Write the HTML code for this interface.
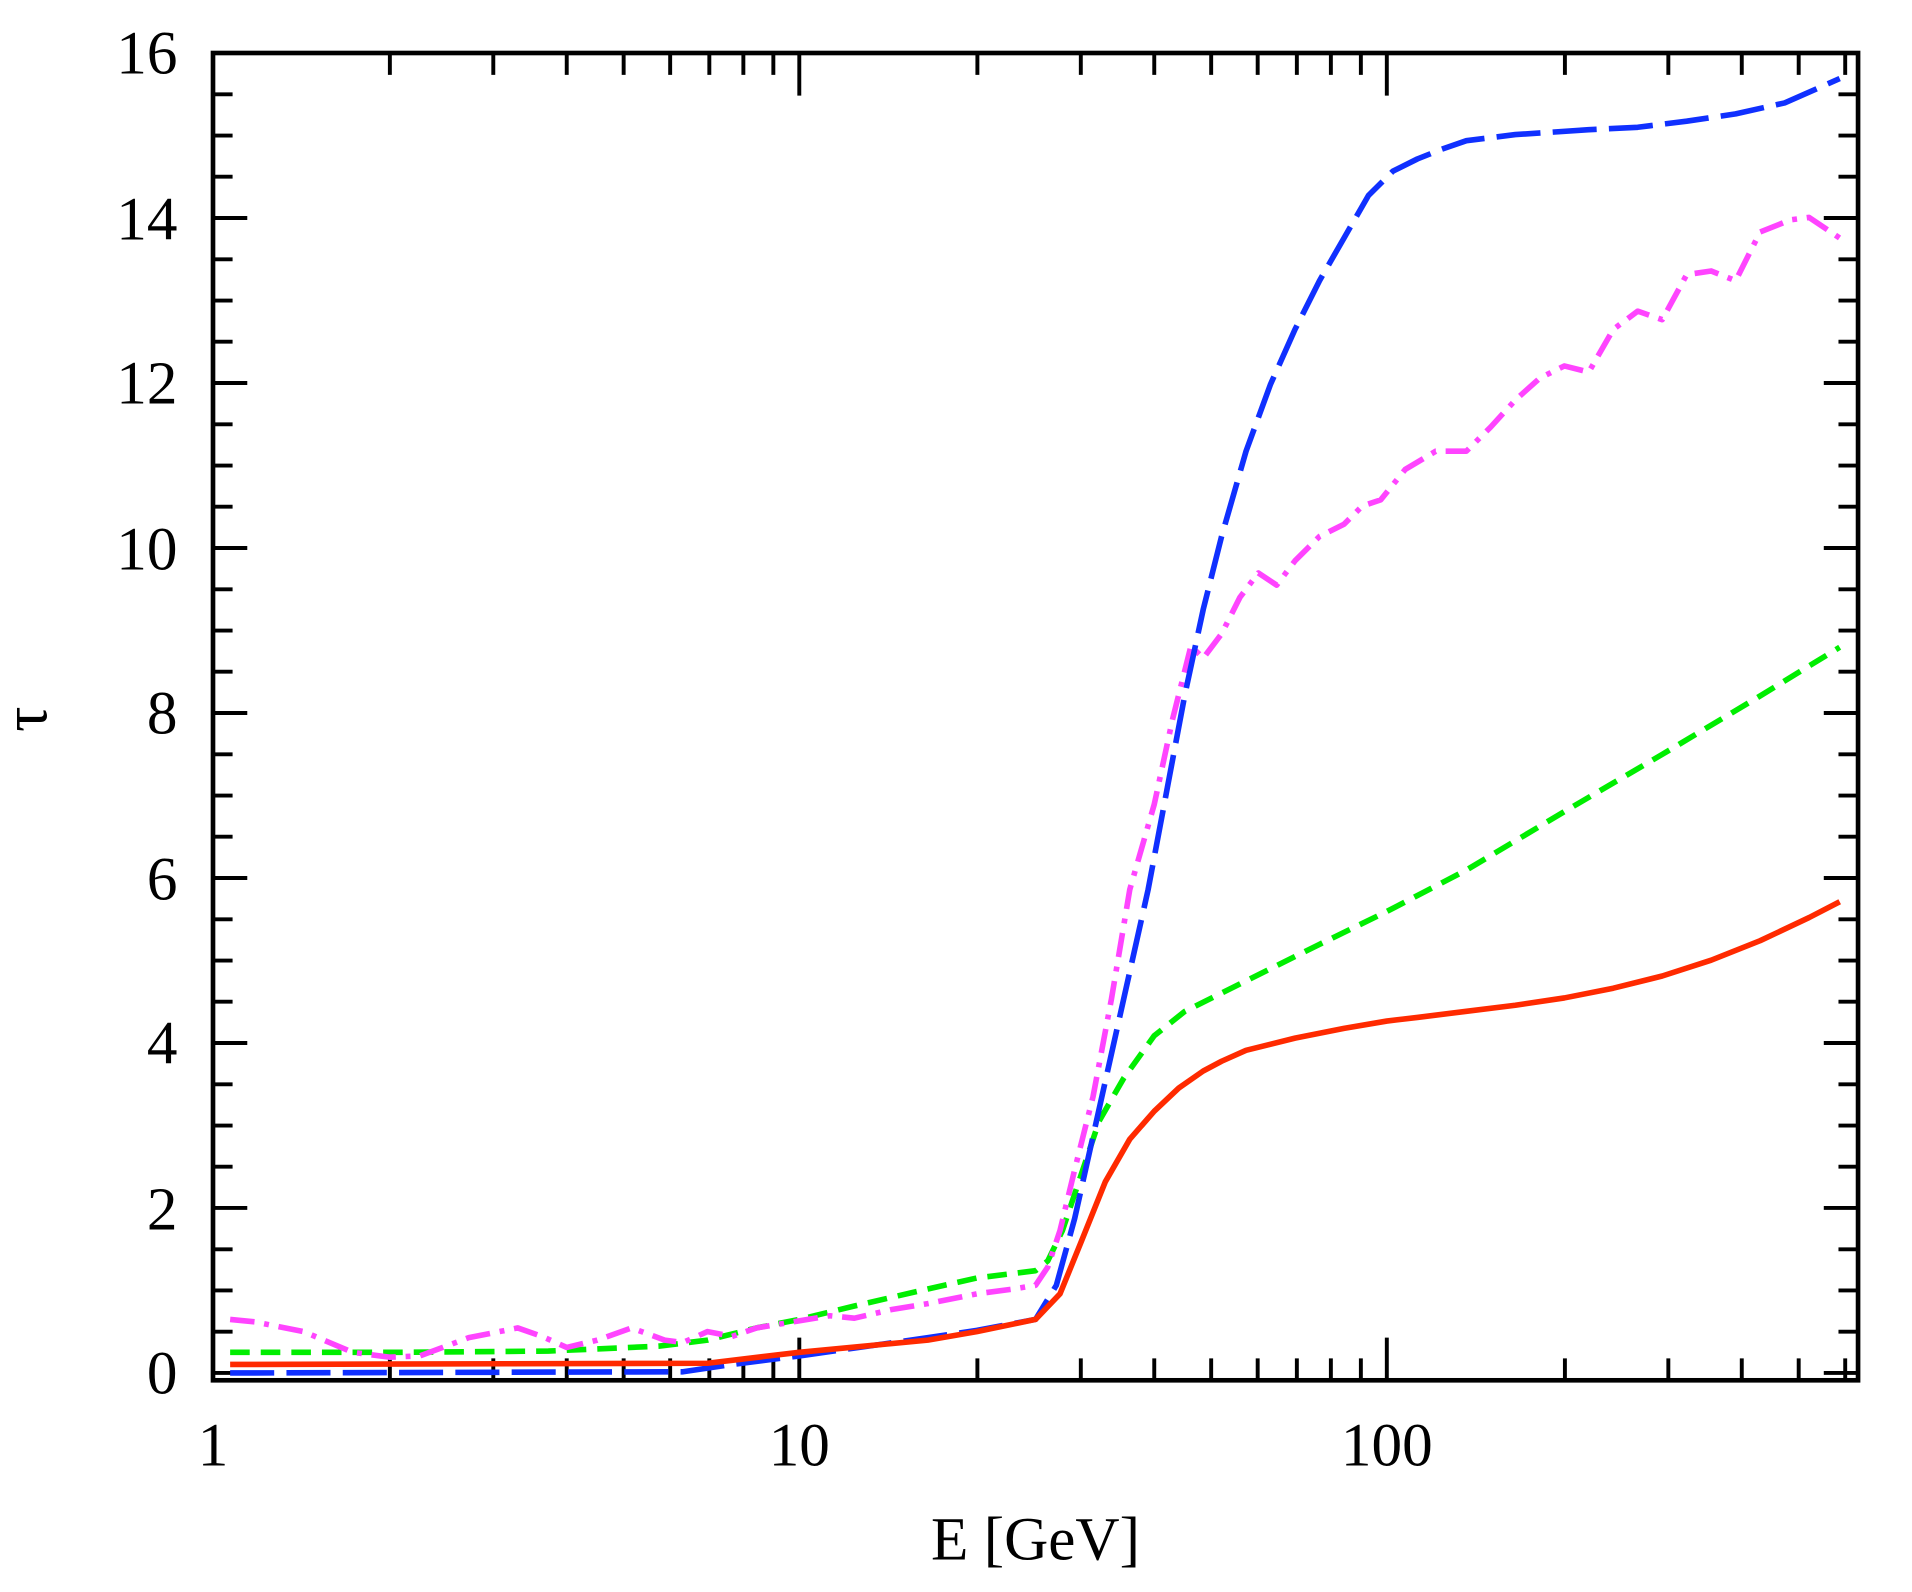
<!DOCTYPE html>
<html><head><meta charset="utf-8"><style>
html,body{margin:0;padding:0;background:#fff;width:1912px;height:1592px;overflow:hidden}
svg{display:block}
text{font-family:"Liberation Serif","DejaVu Serif",serif;fill:#000}
</style></head><body>
<svg width="1912" height="1592" viewBox="0 0 1912 1592">
<g transform="translate(213,53) scale(1.224,1.2177) translate(-176,-43)">
<g stroke="#000" stroke-width="3.2" fill="none">
<path d="M176,1127h28M176,991.5h28M176,856h28M176,720.5h28M176,585h28M176,449.5h28M176,314h28M176,178.5h28M176,43h28
M176,1093.1h16M176,1059.2h16M176,1025.4h16M176,957.6h16M176,923.8h16M176,889.9h16M176,822.1h16M176,788.3h16M176,754.4h16M176,686.6h16M176,652.8h16M176,618.9h16M176,551.1h16M176,517.3h16M176,483.4h16M176,415.6h16M176,381.8h16M176,347.9h16M176,280.1h16M176,246.3h16M176,212.4h16M176,144.6h16M176,110.8h16M176,76.9h16
M1520,1127h-28M1520,991.5h-28M1520,856h-28M1520,720.5h-28M1520,585h-28M1520,449.5h-28M1520,314h-28M1520,178.5h-28
M1520,1093.1h-16M1520,1059.2h-16M1520,1025.4h-16M1520,957.6h-16M1520,923.8h-16M1520,889.9h-16M1520,822.1h-16M1520,788.3h-16M1520,754.4h-16M1520,686.6h-16M1520,652.8h-16M1520,618.9h-16M1520,551.1h-16M1520,517.3h-16M1520,483.4h-16M1520,415.6h-16M1520,381.8h-16M1520,347.9h-16M1520,280.1h-16M1520,246.3h-16M1520,212.4h-16M1520,144.6h-16M1520,110.8h-16M1520,76.9h-16"/>
<path d="M655,1133v-35M1135,1133v-35M655,43v35M1135,43v35
M320.5,1133v-18M405,1133v-18M465,1133v-18M511.5,1133v-18M549.5,1133v-18M581.5,1133v-18M609.3,1133v-18M633.8,1133v-18
M800.5,1133v-18M885,1133v-18M945,1133v-18M991.5,1133v-18M1029.5,1133v-18M1061.5,1133v-18M1089.3,1133v-18M1113.8,1133v-18
M1280.5,1133v-18M1365,1133v-18M1425,1133v-18M1471.5,1133v-18M1509.5,1133v-18
M320.5,43v18M405,43v18M465,43v18M511.5,43v18M549.5,43v18M581.5,43v18M609.3,43v18M633.8,43v18
M800.5,43v18M885,43v18M945,43v18M991.5,43v18M1029.5,43v18M1061.5,43v18M1089.3,43v18M1113.8,43v18
M1280.5,43v18M1365,43v18M1425,43v18M1471.5,43v18M1509.5,43v18"/>
<rect x="176" y="43" width="1344" height="1090" stroke-width="3.8"/>
</g>
<g fill="none" stroke-width="4.6" stroke-linejoin="round">
<polyline stroke="#00ee00" stroke-dasharray="16,9" points="190,1110 330,1110 450,1109 540,1105 580,1100 620,1090 655,1083 700,1072 760,1058 800,1049 848,1043 858,1035 870,1010 885,965 900,920 920,885 945,850 970,830 1000,815 1040,795 1080,775 1135,748 1200,714 1280,666 1360,619 1440,571 1505,531"/>
<polyline stroke="#ff44ff" stroke-dasharray="20,8,4,8" points="190,1083 210,1085 250,1093 290,1110 320,1114 345,1113 385,1098 425,1090 445,1097 465,1106 490,1100 518,1090 545,1100 560,1102 580,1093 600,1097 620,1090 650,1085 680,1080 700,1082 730,1075 760,1070 800,1062 830,1058 848,1055 858,1040 868,1010 880,960 895,900 910,820 925,730 945,660 960,590 975,530 985,540 1000,520 1015,490 1030,470 1045,480 1060,460 1080,440 1100,430 1115,415 1130,410 1150,385 1175,370 1200,370 1220,350 1240,328 1260,310 1280,300 1300,305 1320,270 1340,255 1360,262 1380,225 1400,222 1420,230 1440,190 1465,180 1480,178 1505,195"/>
<polyline stroke="#1030ff" stroke-dasharray="36,10" points="190,1127 560,1126 600,1120 655,1113 760,1098 800,1092 848,1083 865,1055 880,1000 900,910 920,820 940,730 955,650 970,570 985,500 1000,440 1020,370 1040,315 1060,270 1080,230 1100,195 1120,160 1140,140 1160,130 1180,122 1200,115 1240,110 1300,106 1340,104 1380,99 1420,93 1460,84 1505,64"/>
<polyline stroke="#ff2a00" points="190,1120 580,1119 655,1110 760,1100 800,1093 848,1083 868,1062 885,1020 905,970 925,935 945,912 965,893 985,879 1000,871 1020,862 1060,852 1100,844 1135,838 1160,835 1200,830 1240,825 1280,819 1320,811 1360,801 1400,788 1440,772 1480,753 1505,740"/>
</g>
<g font-size="50" text-anchor="end">
<text x="147" y="1144">0</text><text x="147" y="1009">2</text><text x="147" y="873">4</text><text x="147" y="738">6</text><text x="147" y="602">8</text><text x="147" y="467">10</text><text x="147" y="331">12</text><text x="147" y="196">14</text><text x="147" y="60">16</text>
</g>
<g font-size="50" text-anchor="middle">
<text x="176" y="1203">1</text><text x="655" y="1203">10</text><text x="1135" y="1203">100</text>
<text x="848" y="1280">E [GeV]</text>
</g>
<text x="40" y="590" font-size="52" text-anchor="middle" transform="rotate(-90 40 590)">τ</text>
</g>
</svg>
</body></html>
